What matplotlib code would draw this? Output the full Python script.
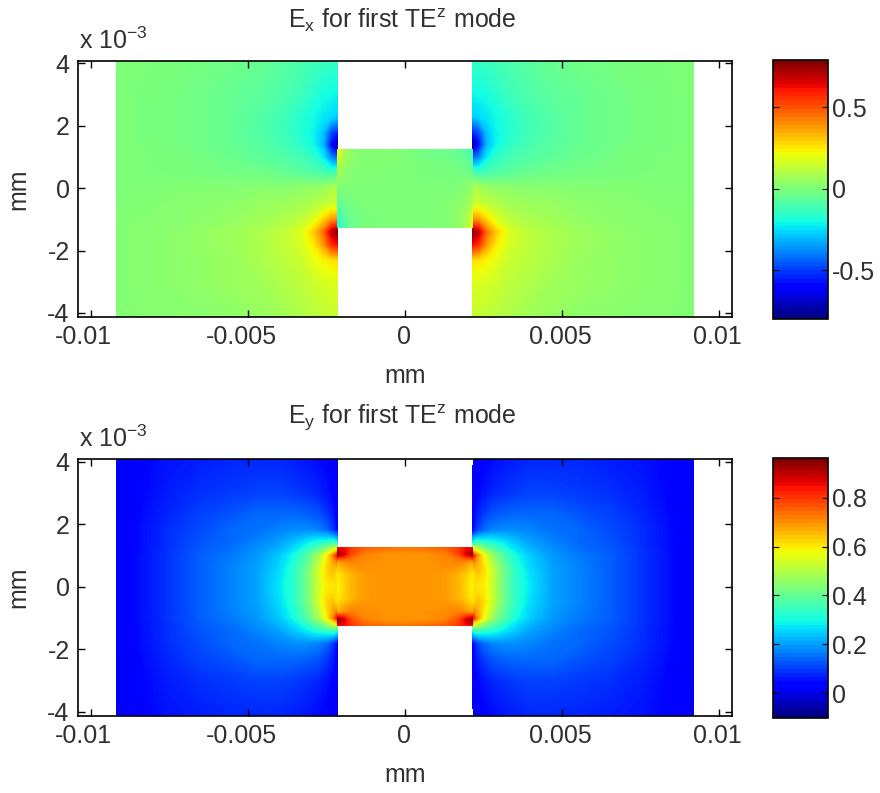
import numpy as np
import matplotlib
matplotlib.use("Agg")
import matplotlib.pyplot as plt
from matplotlib.cm import ScalarMappable
from matplotlib.colors import Normalize
from matplotlib.transforms import ScaledTranslation

plt.rcParams['font.family'] = ['Liberation Sans', 'DejaVu Sans']
plt.rcParams['mathtext.fontset'] = 'custom'
plt.rcParams['mathtext.rm'] = 'Liberation Sans'
plt.rcParams['mathtext.default'] = 'regular'
plt.rcParams['axes.unicode_minus'] = False

# ----- node positions, 1e-3 mm -----
ex_side_x = [-9.19, -7.0, -5.5, -4.5, -3.8, -3.3, -2.9, -2.6, -2.35, -2.15]
ex_side_y = [4.1, 3, 2.3, 1.8, 1.4, 1.0, 0.5, 0, -0.5, -1.0, -1.4, -1.8, -2.3, -3, -4.13]
ey_side_x = [-9.19, -7.5, -6.5, -5.5, -4.7, -4.0, -3.5, -3.1, -2.8, -2.5, -2.3, -2.15]
ey_side_y = [4.1, 3, 2.3, 1.8, 1.4, 1.0, 0.5, 0, -0.5, -1.0, -1.4, -1.8, -2.3, -3, -4.13]
mid_x = [-2.15, -1.95, -1.7, -1.3, -0.6, 0, 0.6, 1.3, 1.7, 1.95, 2.15]
mid_y = [1.25, 1.05, 0.8, 0.4, 0, -0.4, -0.8, -1.05, -1.25]

# ----- Ex values -----
ex_side = [
    [0.00, -0.01, -0.03, -0.05, -0.08, -0.10, -0.12, -0.13, -0.14, -0.14],
    [0.00, -0.02, -0.05, -0.07, -0.10, -0.13, -0.17, -0.20, -0.21, -0.22],
    [0.00, -0.02, -0.05, -0.09, -0.13, -0.17, -0.21, -0.24, -0.26, -0.28],
    [0.00, -0.02, -0.05, -0.09, -0.13, -0.18, -0.22, -0.30, -0.48, -0.55],
    [0.00, -0.02, -0.05, -0.08, -0.12, -0.16, -0.22, -0.32, -0.60, -0.82],
    [0.00, -0.01, -0.04, -0.07, -0.09, -0.12, -0.16, -0.24, -0.40, -0.45],
    [0.00, -0.01, -0.02, -0.03, -0.05, -0.07, -0.09, -0.11, -0.12, -0.10],
    [0.00, 0.01, 0.01, 0.02, 0.02, 0.03, 0.04, 0.05, 0.08, 0.10],
    [0.00, 0.02, 0.03, 0.05, 0.06, 0.07, 0.10, 0.12, 0.14, 0.15],
    [0.01, 0.02, 0.04, 0.07, 0.09, 0.12, 0.18, 0.28, 0.38, 0.40],
    [0.01, 0.03, 0.06, 0.09, 0.13, 0.18, 0.30, 0.45, 0.68, 0.78],
    [0.01, 0.03, 0.06, 0.09, 0.13, 0.17, 0.25, 0.38, 0.56, 0.62],
    [0.01, 0.03, 0.05, 0.09, 0.12, 0.14, 0.20, 0.23, 0.26, 0.27],
    [0.01, 0.03, 0.05, 0.07, 0.10, 0.12, 0.15, 0.17, 0.18, 0.18],
    [0.01, 0.02, 0.03, 0.05, 0.07, 0.09, 0.11, 0.12, 0.13, 0.13],
]
ex_mid = [
    [0.22, 0.08, 0.03, 0.01, 0.01, 0.00, -0.02, -0.03, -0.05, -0.08, -0.14],
    [0.20, 0.07, 0.03, 0.01, 0.01, 0.00, -0.02, -0.03, -0.05, -0.07, -0.12],
    [0.14, 0.05, 0.02, 0.01, 0.01, 0.00, -0.01, -0.02, -0.03, -0.05, -0.08],
    [0.06, 0.03, 0.01, 0.01, 0.00, 0.00, -0.01, -0.01, -0.01, -0.02, -0.02],
    [0.00, 0.00, 0.00, 0.00, 0.00, 0.00, 0.00, 0.00, 0.00, 0.02, 0.04],
    [-0.07, -0.03, -0.01, 0.00, 0.00, 0.00, 0.00, 0.01, 0.02, 0.04, 0.08],
    [-0.14, -0.07, -0.03, -0.01, 0.00, 0.00, 0.00, 0.01, 0.03, 0.07, 0.13],
    [-0.20, -0.09, -0.04, -0.01, 0.00, 0.00, 0.00, 0.01, 0.03, 0.08, 0.17],
    [-0.22, -0.10, -0.04, -0.01, 0.00, 0.00, 0.00, 0.01, 0.03, 0.08, 0.18],
]

# ----- Ey values -----
ey_side = [
    [0.01, 0.05, 0.06, 0.07, 0.07, 0.07, 0.06, 0.05, 0.04, 0.03, 0.01, -0.01],
    [0.01, 0.06, 0.08, 0.09, 0.10, 0.10, 0.09, 0.08, 0.07, 0.05, 0.03, 0.00],
    [0.01, 0.07, 0.10, 0.12, 0.14, 0.14, 0.14, 0.13, 0.12, 0.09, 0.06, 0.01],
    [0.01, 0.08, 0.11, 0.14, 0.15, 0.17, 0.18, 0.18, 0.17, 0.14, 0.09, 0.03],
    [0.01, 0.08, 0.12, 0.14, 0.17, 0.20, 0.24, 0.28, 0.31, 0.33, 0.35, 0.30],
    [0.01, 0.085, 0.13, 0.16, 0.19, 0.24, 0.30, 0.38, 0.46, 0.58, 0.70, 0.85],
    [0.01, 0.085, 0.13, 0.17, 0.20, 0.26, 0.33, 0.42, 0.52, 0.62, 0.65, 0.60],
    [0.01, 0.085, 0.13, 0.17, 0.20, 0.27, 0.33, 0.42, 0.52, 0.60, 0.60, 0.62],
    [0.01, 0.085, 0.13, 0.17, 0.20, 0.26, 0.33, 0.42, 0.52, 0.62, 0.65, 0.60],
    [0.01, 0.085, 0.13, 0.16, 0.19, 0.24, 0.30, 0.38, 0.46, 0.58, 0.70, 0.85],
    [0.01, 0.08, 0.12, 0.14, 0.17, 0.20, 0.24, 0.28, 0.31, 0.33, 0.35, 0.30],
    [0.01, 0.08, 0.11, 0.14, 0.15, 0.17, 0.18, 0.18, 0.17, 0.14, 0.09, 0.03],
    [0.01, 0.07, 0.10, 0.12, 0.14, 0.14, 0.14, 0.13, 0.12, 0.09, 0.06, 0.01],
    [0.01, 0.06, 0.08, 0.09, 0.10, 0.10, 0.09, 0.08, 0.07, 0.05, 0.03, 0.00],
    [0.01, 0.05, 0.06, 0.07, 0.07, 0.07, 0.06, 0.05, 0.04, 0.03, 0.01, -0.01],
]
ey_mid = [
    [0.85, 0.85, 0.80, 0.76, 0.74, 0.73, 0.74, 0.76, 0.80, 0.85, 0.85],
    [0.95, 0.88, 0.78, 0.72, 0.70, 0.70, 0.70, 0.72, 0.78, 0.88, 0.95],
    [0.66, 0.70, 0.72, 0.71, 0.70, 0.70, 0.70, 0.71, 0.72, 0.70, 0.66],
    [0.60, 0.63, 0.66, 0.69, 0.70, 0.70, 0.70, 0.69, 0.66, 0.63, 0.60],
    [0.58, 0.62, 0.66, 0.69, 0.70, 0.70, 0.70, 0.69, 0.66, 0.62, 0.58],
    [0.60, 0.63, 0.66, 0.69, 0.70, 0.70, 0.70, 0.69, 0.66, 0.63, 0.60],
    [0.66, 0.70, 0.72, 0.71, 0.70, 0.70, 0.70, 0.71, 0.72, 0.70, 0.66],
    [0.95, 0.88, 0.78, 0.72, 0.70, 0.70, 0.70, 0.72, 0.78, 0.88, 0.95],
    [0.85, 0.85, 0.80, 0.76, 0.74, 0.73, 0.74, 0.76, 0.80, 0.85, 0.85],
]

x_ticks = [-0.01, -0.005, 0, 0.005, 0.01]
x_tick_labels = ['-0.01', '-0.005', '0', '0.005', '0.01']
y_ticks = [-4, -2, 0, 2, 4]
ex_lim = (-0.80, 0.79)
ey_lim = (-0.102, 0.963)
ex_cbar_ticks = [-0.5, 0, 0.5]
ey_cbar_ticks = [0, 0.2, 0.4, 0.6, 0.8]
W, H = 880, 793
FS = 18
TXT = '#303030'


def px_axes(fig, left, top, right, bottom):
    return fig.add_axes([left / W, 1 - bottom / H, (right - left) / W, (bottom - top) / H])


def draw_field(fig, box, cbox, side_x, side_y, side, mid, lim, cticks, title, title_y):
    ax = px_axes(fig, *box)
    levels = np.linspace(lim[0], lim[1], 257)
    side = np.array(side)
    mx = np.array(mid_x) * 1e-3
    sx = np.array(side_x) * 1e-3
    kw = dict(levels=levels, cmap='jet', extend='both')
    ax.contourf(sx, side_y, side, **kw)
    ax.contourf(-sx[::-1], side_y, side[:, ::-1], **kw)
    ax.contourf(mx, mid_y, np.array(mid), **kw)
    ax.set_xlim(-0.0104, 0.0104)
    ax.set_ylim(-4.13, 4.08)
    ax.set_xticks(x_ticks)
    ax.set_xticklabels(x_tick_labels)
    ax.set_yticks(y_ticks)
    ax.tick_params(direction='in', top=True, right=True, length=5, width=1,
                   labelsize=FS, labelcolor=TXT)
    ax.tick_params(axis='x', pad=6)
    ax.tick_params(axis='y', pad=6)
    # negative labels sit a little left of their ticks in the original
    for lab, shift in zip(ax.get_xticklabels(), [-7, -6, -1, -2, -2]):
        lab.set_transform(lab.get_transform() + ScaledTranslation(shift / 100, 0, fig.dpi_scale_trans))
    ax.set_xlabel('mm', fontsize=FS, color=TXT)
    ax.xaxis.set_label_coords(0.5, -(364 - 317) / 256)
    ax.set_ylabel('mm', fontsize=FS, color=TXT)
    ax.yaxis.set_label_coords(-(78 - 30) / 654, 0.5)
    fig.text(402 / W, 1 - title_y / H, title, fontsize=FS, color=TXT, ha='center', va='center')
    fig.text(79 / W, 1 - (box[1] - 20) / H, 'x 10$^{-3}$', fontsize=FS, color=TXT, ha='left', va='center')
    for s in ax.spines.values():
        s.set_linewidth(1.2)

    cax = px_axes(fig, *cbox)
    sm = ScalarMappable(Normalize(*lim), plt.get_cmap('jet', 64))
    cb = fig.colorbar(sm, cax=cax)
    cb.set_ticks(cticks)
    cb.set_ticklabels([f'{t:g}' for t in cticks])
    cb.ax.tick_params(direction='in', left=True, right=True, length=4, labelsize=FS,
                      labelcolor=TXT, pad=3)
    cb.outline.set_linewidth(1.2)


fig = plt.figure(figsize=(W / 100, H / 100), dpi=100)
draw_field(fig, (78, 61, 732, 317), (773, 60, 828, 319), ex_side_x, ex_side_y, ex_side, ex_mid,
           ex_lim, ex_cbar_ticks, 'E$_x$ for first TE$^z$ mode', 20)
draw_field(fig, (78, 459, 732, 716), (773, 458, 828, 718), ey_side_x, ey_side_y, ey_side, ey_mid,
           ey_lim, ey_cbar_ticks, 'E$_y$ for first TE$^z$ mode', 418)
fig.savefig('out.png', dpi=100)
